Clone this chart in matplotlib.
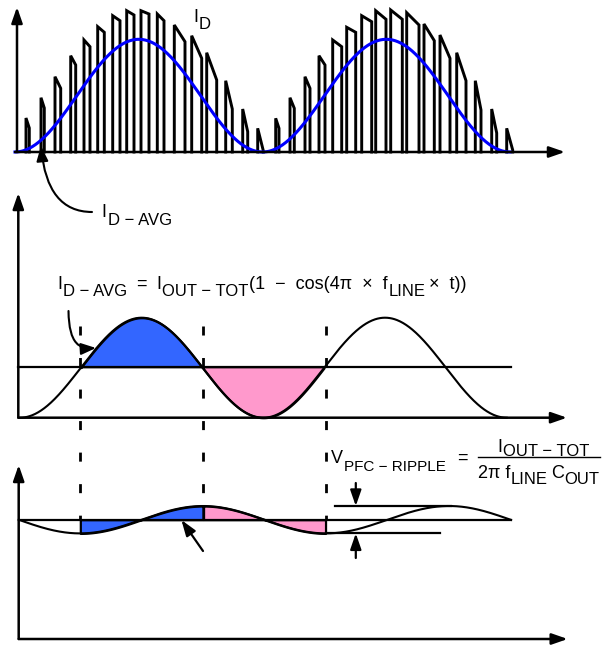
import numpy as np
import matplotlib.pyplot as plt
from matplotlib.patches import FancyArrowPatch
from matplotlib.path import Path

plt.rcParams['lines.scale_dashes'] = False
FONT = ['Liberation Sans', 'DejaVu Sans']
MAIN, SUB = 13, 12

# ---- data (canvas px, y grows downward) ----
# diode current pulses, two line half-cycles
pulse_start = [26, 41, 55, 70.7, 84, 97.7, 112.7, 126.7, 141, 157.3, 174.3, 191.7,
               206.7, 225.7, 242.7, 257.7,
               275.7, 290, 305, 319, 332.7, 346.7, 361.7, 375.7, 390.7, 406.7, 424,
               440, 456.7, 475.3, 491.7, 506.7]
pulse_end = [29.3, 44.3, 60.7, 75.7, 90, 104.3, 120, 134, 149, 164, 185, 201.7,
             216.7, 232.3, 247.7, 263.3,
             279, 294.3, 310, 325, 341.7, 355.7, 371.7, 386, 402.3, 419, 434.3,
             450, 466, 481, 496.7, 512.7]
pulse_rise = [118, 97.7, 76.7, 55.7, 40, 26.7, 15.7, 10.7, 10.7, 14, 25, 35.7,
              52.7, 80.7, 109, 128.3,
              118.3, 97.7, 76.7, 55.7, 40, 27.3, 15.7, 10.7, 10, 12.7, 24, 35,
              52.7, 80.7, 109, 128.3]
pulse_fall = [128, 108, 88.3, 65, 46.7, 32.3, 20.7, 15, 14, 20.7, 41.7, 58.3,
              80, 109, 131.7, 150.7,
              128.3, 108.3, 88.3, 65, 46.7, 32.3, 21.7, 19.3, 19.3, 25, 40.7, 58.3,
              80.7, 110, 133, 150]

# average diode current  I_OUT * (1 - cos(4*pi*f*t)), ripple is its integral
top_base, top_peak, top_t0, top_period = 152, 39.3, 15, 247.5
mid_base, mid_peak, mid_t0, mid_period = 417.7, 317.7, 20, 243.35
mid_mean = 366.7
rip_mean, rip_amp, rip_t0, rip_period = 519.7, 13.7, 80, 246
phase_marks = [80, 203, 326]

fig = plt.figure(figsize=(6.11, 6.45), dpi=100)
ax = fig.add_axes([0, 0, 1, 1])
ax.set_xlim(0, 611)
ax.set_ylim(645, 0)
ax.axis('off')
rend = fig.canvas.get_renderer()


def arrow(p0, p1, lw=1.8, hl=0.95, hw=0.33, ms=10):
    ax.annotate('', xy=p1, xytext=p0,
                arrowprops=dict(arrowstyle=f'-|>,head_length={hl},head_width={hw}',
                                lw=lw, color='k', shrinkA=0, shrinkB=0,
                                mutation_scale=ms))


def curved_arrow(verts, codes, lw=1.5):
    p = FancyArrowPatch(path=Path(verts, codes),
                        arrowstyle='-|>,head_length=0.9,head_width=0.35',
                        lw=lw, color='k', mutation_scale=10)
    ax.add_patch(p)


def rich(x, y, parts):
    for txt, size, dy, gap in parts:
        t = ax.text(x, y + dy, txt, fontsize=size, family=FONT,
                    va='baseline', ha='left')
        x += t.get_window_extent(rend).width + gap
    return x


# ---- panel 1: diode current pulses ----
for xs, xe, yr, yf in zip(pulse_start, pulse_end, pulse_rise, pulse_fall):
    ax.plot([xs, xs, xe, xe], [top_base, yr, yf, top_base], color='k', lw=2.1,
            solid_joinstyle='miter')
t1 = np.linspace(top_t0, top_t0 + 2 * top_period, 800)
amp1 = (top_base - top_peak) / 2
ax.plot(t1, top_base - amp1 * (1 - np.cos(2 * np.pi * (t1 - top_t0) / top_period)),
        color='#0000ff', lw=2.2)
arrow((17, top_base), (17, 7))
arrow((15, top_base), (565, top_base))
rich(193.3, 21.7, [("I", MAIN, 0, 0.8), ("D", SUB, 7.6, 0)])
curved_arrow([(92, 212), (47, 212), (41, 146)],
             [Path.MOVETO, Path.CURVE3, Path.CURVE3])
rich(101.7, 217, [("I", MAIN, 0, 0.8), ("D − AVG", SUB, 8, 0)])

# ---- panel 2: averaged diode current vs. load ----
t2 = np.linspace(mid_t0, mid_t0 + 2 * mid_period, 800)
amp2 = (mid_base - mid_peak) / 2
i2 = mid_base - amp2 * (1 - np.cos(2 * np.pi * (t2 - mid_t0) / mid_period))
c1 = mid_t0 + mid_period / 4
c2 = mid_t0 + 3 * mid_period / 4
c3 = mid_t0 + 5 * mid_period / 4
m = (t2 >= c1) & (t2 <= c2)
ax.fill_between(t2[m], i2[m], mid_mean, facecolor='#3366ff', edgecolor='k', lw=1.6)
m = (t2 >= c2) & (t2 <= c3)
ax.fill_between(t2[m], i2[m], mid_mean, facecolor='#ff99cc', edgecolor='k', lw=1.6)
ax.plot(t2, i2, color='k', lw=1.5)
ax.plot([18, 510.7], [mid_mean, mid_mean], color='k', lw=1.6)
arrow((18.3, mid_base), (18.3, 193))
arrow((18.3, mid_base), (567, mid_base))
rich(57, 289, [("I", MAIN, 0, 0.8), ("D − AVG", SUB, 7, 9), ("=", MAIN, 0, 10),
               ("I", MAIN, 0, 0.8), ("OUT − TOT", SUB, 7, 0.5),
               ("(1  −  cos(4π  ×  f", MAIN, 0, 0.5), ("LINE", SUB, 7, 4),
               ("×  t))", MAIN, 0, 0)])
curved_arrow([(68.5, 311), (69, 345), (80, 349), (96, 348)],
             [Path.MOVETO, Path.CURVE4, Path.CURVE4, Path.CURVE4])

# ---- panel 3: output voltage ripple ----
t3 = np.linspace(18.7, 511, 800)
v3 = rip_mean + rip_amp * np.cos(2 * np.pi * (t3 - rip_t0) / rip_period)
m = (t3 >= phase_marks[0]) & (t3 <= phase_marks[1])
ax.fill_between(t3[m], v3[m], rip_mean, facecolor='#3366ff', edgecolor='k', lw=1.6)
m = (t3 >= phase_marks[1]) & (t3 <= phase_marks[2])
ax.fill_between(t3[m], v3[m], rip_mean, facecolor='#ff99cc', edgecolor='k', lw=1.6)
ax.plot(t3, v3, color='k', lw=1.5)
ax.plot([18.7, 511], [rip_mean, rip_mean], color='k', lw=1.6)
arrow((18.7, 639), (18.7, 465))
arrow((18.7, 639), (567.7, 639))

# dashed phase markers through panels 2 and 3
ends = [rip_mean, rip_mean - rip_amp, rip_mean]
for xm, ye in zip(phase_marks, ends):
    ax.plot([xm, xm], [326, ye], color='k', lw=2.0, dashes=(6.5, 16.2))

# ripple dimension
y_hi = rip_mean - rip_amp
y_lo = rip_mean + rip_amp
ax.plot([334.8, 450.6], [y_hi, y_hi], color='k', lw=1.6)
ax.plot([325.8, 440], [y_lo, y_lo], color='k', lw=1.6)
arrow((355.8, 483), (355.8, y_hi), lw=1.6)
arrow((355.8, 558), (355.8, y_lo), lw=1.6)
arrow((203, 551), (181.4, 520), lw=1.6)

rich(331, 463.3, [("V", MAIN, 0, 0.5), ("PFC − RIPPLE", SUB - 1, 8, 0)])
ax.text(457, 463.3, "=", fontsize=MAIN, family=FONT, va='baseline', ha='left')
ax.plot([478, 600], [456.8, 456.8], color='k', lw=1.0)
rich(497.5, 451.6, [("I", MAIN, 0, 0.8), ("OUT − TOT", SUB, 4, 0)])
rich(478, 478.5, [("2π f", MAIN, 0, 0.5), ("LINE", SUB, 5, 3), ("C", MAIN, 0, 0.5),
                  ("OUT", SUB, 5, 0)])

fig.savefig('out.png', dpi=100)
